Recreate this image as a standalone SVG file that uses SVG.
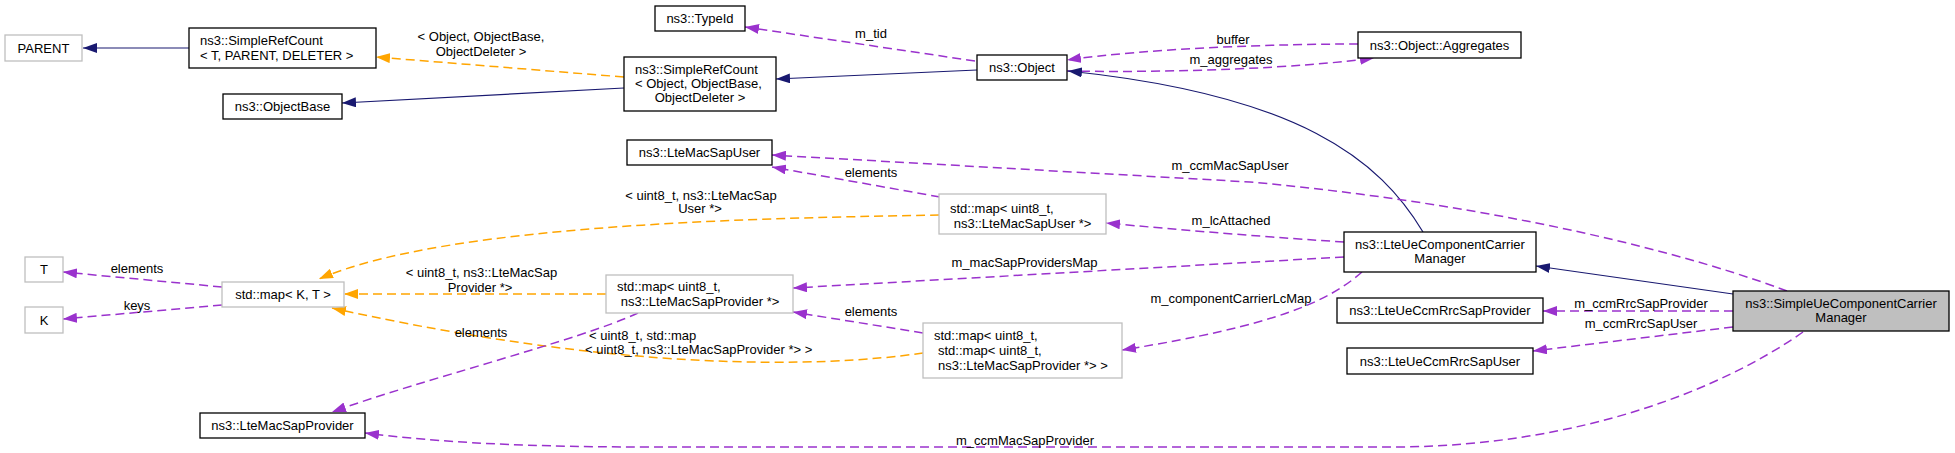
<svg xmlns="http://www.w3.org/2000/svg" width="1955" height="453" viewBox="0 0 1955 453">
<style>
text{font-family:"Liberation Sans",Arial,sans-serif;font-size:13px;fill:#000}
.c{text-anchor:middle}
.box{fill:#fff;stroke:#000;stroke-width:1.3}
.gbox{fill:#fff;stroke:#bfbfbf;stroke-width:1.3}
.cur{fill:#bfbfbf;stroke:#000;stroke-width:1.3}
.inh{fill:none;stroke:#191970;stroke-width:1.2;marker-end:url(#ab)}
.use{fill:none;stroke:#9a32cd;stroke-width:1.5;stroke-dasharray:9,5;marker-end:url(#ap)}
.tpl{fill:none;stroke:#ffa500;stroke-width:1.5;stroke-dasharray:9,5;marker-end:url(#ao)}
</style>
<defs>
<marker id="ab" markerUnits="userSpaceOnUse" markerWidth="14" markerHeight="10" refX="14" refY="5" orient="auto"><path d="M0,0 L14,5 L0,10 z" fill="#191970"/></marker>
<marker id="ap" markerUnits="userSpaceOnUse" markerWidth="14" markerHeight="10" refX="14" refY="5" orient="auto"><path d="M0,0 L14,5 L0,10 z" fill="#9a32cd"/></marker>
<marker id="ao" markerUnits="userSpaceOnUse" markerWidth="14" markerHeight="10" refX="14" refY="5" orient="auto"><path d="M0,0 L14,5 L0,10 z" fill="#ffa500"/></marker>
</defs>
<rect width="1955" height="453" fill="#fff"/>
<g id="connectors">
<path class="inh" d="M189,48 L83,48"/>
<path class="tpl" d="M624,77 L376,57"/>
<text class="c" x="481" y="40.5">&lt; Object, ObjectBase,</text>
<text class="c" x="481" y="55.5">ObjectDeleter &gt;</text>
<path class="inh" d="M624,88 L342,103"/>
<path class="inh" d="M977,70 L776,79"/>
<path class="use" d="M975,61 L745,27"/>
<text class="c" x="871" y="37.5">m_tid</text>
<path class="use" d="M1358,44 C1280,44 1150,48 1067,60"/>
<text class="c" x="1233" y="43.5">buffer</text>
<path class="use" d="M1067,71 C1180,73 1300,68 1374,58"/>
<text class="c" x="1231" y="63.5">m_aggregates</text>
<path class="inh" d="M1423,232 C1380,160 1300,95 1068,71"/>
<path class="use" d="M1787,291 C1650,240 1450,200 1250,182 L772,155"/>
<text class="c" x="1230" y="169.5">m_ccmMacSapUser</text>
<path class="use" d="M940,197 L772,167"/>
<text class="c" x="871" y="176.5">elements</text>
<path class="use" d="M1344,242 C1280,238 1180,230 1106,223"/>
<text class="c" x="1231" y="224.5">m_lcAttached</text>
<path class="tpl" d="M939,215 C780,218 450,222 319,279"/>
<text class="c" x="701" y="199.5">&lt; uint8_t, ns3::LteMacSap</text>
<text class="c" x="700" y="212.5">User *&gt;</text>
<path class="use" d="M1344,257 L793,288"/>
<text class="c" x="1024.5" y="266.5">m_macSapProvidersMap</text>
<path class="tpl" d="M606,294 L344,294"/>
<text class="c" x="481.5" y="276.5">&lt; uint8_t, ns3::LteMacSap</text>
<text class="c" x="480" y="291.5">Provider *&gt;</text>
<path class="use" d="M222,287 L63,272"/>
<text class="c" x="137" y="272.5">elements</text>
<path class="use" d="M222,305 L63,319"/>
<text class="c" x="137" y="309.5">keys</text>
<path class="use" d="M923,333 L793,312"/>
<text class="c" x="871" y="315.5">elements</text>
<path class="use" d="M1362,272 C1330,300 1280,325 1122,350"/>
<text class="c" x="1231" y="303">m_componentCarrierLcMap</text>
<path class="tpl" d="M923,353 C820,368 620,372 332,308"/>
<text x="589" y="339.5">&lt; uint8_t, std::map</text>
<text x="585" y="353.5">&lt; uint8_t, ns3::LteMacSapProvider *&gt; &gt;</text>
<path class="use" d="M638,313 C580,340 420,380 332,412"/>
<text class="c" x="481" y="336.5">elements</text>
<path class="inh" d="M1733,294 L1536,266"/>
<path class="use" d="M1733,311 L1543,311"/>
<text class="c" x="1641" y="307.5">m_ccmRrcSapProvider</text>
<path class="use" d="M1733,327 L1533,351"/>
<text class="c" x="1641" y="327.5">m_ccmRrcSapUser</text>
<path class="use" d="M1803,332 C1720,390 1580,445 1400,447 L650,447 C500,447 420,440 365,433"/>
<text class="c" x="1025" y="444.5">m_ccmMacSapProvider</text>
</g>
<g id="parent"><rect class="gbox" x="5" y="35" width="77" height="26"/><text class="c" x="43.5" y="52.5">PARENT</text></g>
<g id="simplerefcount_t"><rect class="box" x="189" y="28" width="187" height="40"/><text x="200" y="44.5">ns3::SimpleRefCount</text><text x="200" y="59.5">&lt; T, PARENT, DELETER &gt;</text></g>
<g id="objectbase"><rect class="box" x="223" y="94" width="119" height="25"/><text class="c" x="282.5" y="111">ns3::ObjectBase</text></g>
<g id="simplerefcount_object"><rect class="box" x="624" y="57" width="152" height="54"/><text x="635" y="73.5">ns3::SimpleRefCount</text><text x="635" y="87.5">&lt; Object, ObjectBase,</text><text class="c" x="700" y="101.5">ObjectDeleter &gt;</text></g>
<g id="typeid"><rect class="box" x="655" y="6" width="90" height="25"/><text class="c" x="700" y="23">ns3::TypeId</text></g>
<g id="object"><rect class="box" x="977" y="55" width="90" height="25"/><text class="c" x="1022" y="72">ns3::Object</text></g>
<g id="aggregates"><rect class="box" x="1358" y="32" width="163" height="26"/><text class="c" x="1439.5" y="49.5">ns3::Object::Aggregates</text></g>
<g id="ltemacsapuser"><rect class="box" x="627" y="140" width="145" height="25"/><text class="c" x="699.5" y="157">ns3::LteMacSapUser</text></g>
<g id="map_macsapuser"><rect class="gbox" x="939" y="194" width="167" height="40"/><text x="950" y="212.5">std::map&lt; uint8_t,</text><text class="c" x="1022.5" y="227.5"> ns3::LteMacSapUser *&gt;</text></g>
<g id="lteuecomponentcarriermanager"><rect class="box" x="1344" y="232" width="192" height="40"/><text class="c" x="1440" y="248.5">ns3::LteUeComponentCarrier</text><text class="c" x="1440" y="262.5">Manager</text></g>
<g id="t"><rect class="gbox" x="25" y="257" width="38" height="25"/><text class="c" x="44" y="274">T</text></g>
<g id="k"><rect class="gbox" x="25" y="307" width="38" height="26"/><text class="c" x="44" y="324.5">K</text></g>
<g id="map_kt"><rect class="gbox" x="222" y="282" width="122" height="25"/><text class="c" x="283" y="299">std::map&lt; K, T &gt;</text></g>
<g id="map_macsapprovider"><rect class="gbox" x="606" y="275" width="187" height="38"/><text x="617" y="291">std::map&lt; uint8_t,</text><text class="c" x="700" y="305.5">ns3::LteMacSapProvider *&gt;</text></g>
<g id="map_nested"><rect class="gbox" x="923" y="323" width="199" height="55"/><text x="934" y="339.5">std::map&lt; uint8_t,</text><text x="938" y="354.5">std::map&lt; uint8_t,</text><text class="c" x="1023" y="369.5">ns3::LteMacSapProvider *&gt; &gt;</text></g>
<g id="ltemacsapprovider"><rect class="box" x="200" y="413" width="165" height="25"/><text class="c" x="282.5" y="430">ns3::LteMacSapProvider</text></g>
<g id="lteueccmrrcsapprovider"><rect class="box" x="1337" y="298" width="206" height="25"/><text class="c" x="1440" y="315">ns3::LteUeCcmRrcSapProvider</text></g>
<g id="lteueccmrrcsapuser"><rect class="box" x="1347" y="348" width="186" height="26"/><text class="c" x="1440" y="365.5">ns3::LteUeCcmRrcSapUser</text></g>
<g id="simpleuecomponentcarriermanager"><rect class="cur" x="1733" y="291" width="216" height="40"/><text class="c" x="1841" y="307.5">ns3::SimpleUeComponentCarrier</text><text class="c" x="1841" y="321.5">Manager</text></g>
</svg>
